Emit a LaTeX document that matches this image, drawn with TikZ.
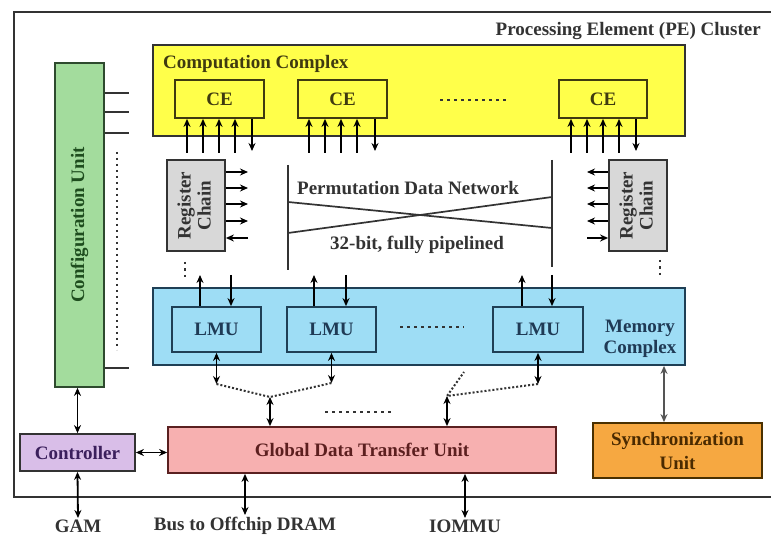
\documentclass[tikz,border=0pt]{standalone}
\usepackage{fontspec}
\setmainfont{Liberation Serif}
\usetikzlibrary{arrows.meta}
\definecolor{outc}{HTML}{333333}
\definecolor{ccyel}{HTML}{FFFF4A}
\definecolor{cctxt}{HTML}{3F3A10}
\definecolor{cfgfill}{HTML}{A3DC9D}
\definecolor{cfgtxt}{HTML}{1E4D1E}
\definecolor{cfgdraw}{HTML}{2E4A2E}
\definecolor{rcfill}{HTML}{D8D8D8}
\definecolor{mcfill}{HTML}{9EDDF5}
\definecolor{mcdraw}{HTML}{1F3F55}
\definecolor{mctxt}{HTML}{1F3A55}
\definecolor{ctfill}{HTML}{D9BEE8}
\definecolor{cttxt}{HTML}{3B1F5C}
\definecolor{gdfill}{HTML}{F7B0B0}
\definecolor{gddraw}{HTML}{5A2020}
\definecolor{gdtxt}{HTML}{5C1F1F}
\definecolor{syfill}{HTML}{F6A841}
\definecolor{sydraw}{HTML}{4A3000}
\definecolor{sytxt}{HTML}{4A2A00}
\definecolor{graya}{HTML}{555555}
\begin{document}
\begin{tikzpicture}[x=1pt,y=-1pt,
  font=\fontsize{19}{23}\selectfont\bfseries,
  blk/.style={rectangle, draw=outc, line width=1.8pt, inner sep=0pt, align=center},
  arr/.style={line width=1.8pt, -{Stealth[length=8pt,width=7pt]}},
  darr/.style={line width=1.8pt, {Stealth[length=8pt,width=7pt]}-{Stealth[length=8pt,width=7pt]}},
  dotsH/.style={line width=2.5pt, dash pattern=on 2.5pt off 4.5pt, draw=outc},
  dotsV/.style={line width=2pt, dash pattern=on 2pt off 4pt, draw=outc},
  dotline/.style={line width=2pt, dash pattern=on 2pt off 2pt, draw=outc},
  netline/.style={line width=1.7pt, draw=outc},
  lbl/.style={inner sep=2pt, text=outc}]
\useasboundingbox (0,0) rectangle (771,537);
\fill[white] (0,0) rectangle (771,537);

% outer cluster
\node[blk, minimum width=776pt, minimum height=485pt] (pe) at (402,254.5) {};
\node[lbl, anchor=base east] (pet) at (763,36) {Processing Element (PE) Cluster};

% computation complex
\node[blk, fill=ccyel, minimum width=532pt, minimum height=91pt] (cc) at (419,90.5) {};
\node[lbl, anchor=base west, text=cctxt, inner sep=0pt] (cct) at (163,69) {Computation Complex};
\node[blk, fill=ccyel, draw=cctxt, text=cctxt, minimum width=89pt, minimum height=38pt] (ce1) at (219.5,99) {CE};
\node[blk, fill=ccyel, draw=cctxt, text=cctxt, minimum width=89pt, minimum height=38pt] (ce2) at (342.5,99) {CE};
\node[blk, fill=ccyel, draw=cctxt, text=cctxt, minimum width=88pt, minimum height=38pt] (ce3) at (603,99) {CE};
\coordinate (cedl) at (440,100);
\coordinate (cedr) at (506,100);
\draw[dotsH] (cedl) -- (cedr);

% CE arrows
\foreach \x in {187,203,219,235} \draw[arr] (\x,153) -- (\x,0 |- ce1.south);
\draw[arr] (252,0 |- ce1.south) -- (252,151);
\foreach \x in {309,325,341,357} \draw[arr] (\x,153) -- (\x,0 |- ce2.south);
\draw[arr] (375,0 |- ce2.south) -- (375,151);
\foreach \x in {571,587,603,619} \draw[arr] (\x,153) -- (\x,0 |- ce3.south);
\draw[arr] (636,0 |- ce3.south) -- (636,151);

% configuration unit
\node[blk, fill=cfgfill, draw=cfgdraw, text=cfgtxt, minimum width=49pt, minimum height=324pt] (cfg) at (79.5,225) {\rotatebox{90}{Configuration Unit}};
\foreach \y in {93,112,133,368} \draw[line width=1.7pt, outc] (cfg.east |- 0,\y) -- (129,\y);
\coordinate (cfgd1) at (117,152);
\coordinate (cfgd2) at (117,350);
\draw[dotsV] (cfgd1) -- (cfgd2);

% register chains
\node[blk, fill=rcfill, text=outc, minimum width=58pt, minimum height=91pt] (rc1) at (196,205.5)
  {\rotatebox{90}{\begin{tabular}{@{}c@{}}Register\\[-3pt]Chain\end{tabular}}};
\node[blk, fill=rcfill, text=outc, minimum width=58pt, minimum height=91pt] (rc2) at (638,205.5)
  {\rotatebox{90}{\begin{tabular}{@{}c@{}}Register\\[-3pt]Chain\end{tabular}}};
\foreach \y in {172,188,204,221} \draw[arr] (rc1.east |- 0,\y) -- (248,\y);
\draw[arr] (248,238) -- (rc1.east |- 0,238);
\foreach \y in {172,188,204,221} \draw[arr] (rc2.west |- 0,\y) -- (587,\y);
\draw[arr] (587,238) -- (rc2.west |- 0,238);
\draw[dotsV, line width=2.5pt, dash pattern=on 2.5pt off 4pt] (185,262) -- (185,280);
\draw[dotsV, line width=2.5pt, dash pattern=on 2.5pt off 4pt] (660,260) -- (660,278);

% permutation network
\coordinate (nlt) at (288,165);
\coordinate (nlb) at (288,270);
\coordinate (nrt) at (552,160);
\coordinate (nrb) at (552,267);
\draw[netline] (nlt) -- (nlb);
\draw[netline] (nrt) -- (nrb);
\draw[netline] (288,202) -- (552,228);
\draw[netline] (288,233) -- (552,197);
\node[lbl, anchor=base west, inner sep=0pt] (pdn) at (297,195) {Permutation Data Network};
\node[lbl, anchor=base west, inner sep=0pt] (pip) at (330,250) {32-bit, fully pipelined};

% memory complex
\node[blk, fill=mcfill, draw=mcdraw, minimum width=532pt, minimum height=77pt] (mc) at (419,326.5) {};
\node[blk, fill=mcfill, draw=mcdraw, text=mctxt, minimum width=89pt, minimum height=45pt] (lmu1) at (216.5,329.5) {LMU};
\node[blk, fill=mcfill, draw=mcdraw, text=mctxt, minimum width=89pt, minimum height=45pt] (lmu2) at (331.5,329.5) {LMU};
\node[blk, fill=mcfill, draw=mcdraw, text=mctxt, minimum width=90pt, minimum height=45pt] (lmu3) at (538,329.5) {LMU};
\node[lbl, text=mctxt, align=center, font=\fontsize{19}{21}\selectfont\bfseries] (mct) at (640,339) {Memory\\Complex};
\draw[dotsH] (400,327) -- (464,327);

% LMU top arrows
\draw[arr] (200,0 |- lmu1.north) -- (200,275);
\draw[arr] (231,275) -- (231,0 |- lmu1.north);
\draw[arr] (314,0 |- lmu2.north) -- (314,275);
\draw[arr] (346,275) -- (346,0 |- lmu2.north);
\draw[arr] (522,0 |- lmu3.north) -- (522,275);
\draw[arr] (552,275) -- (552,0 |- lmu3.north);

% global data transfer unit
\node[blk, fill=gdfill, draw=gddraw, text=gdtxt, minimum width=388pt, minimum height=46pt] (gd) at (362,450) {Global Data Transfer Unit};

% LMU to GDTU
\coordinate (j1) at (216.5,384);
\coordinate (j2) at (331.5,383);
\coordinate (j3) at (538,384);
\coordinate (ja) at (270,397);
\coordinate (jb) at (447,396);
\coordinate (jc) at (464,372);
\draw[darr] (lmu1.south) -- (j1);
\draw[darr] (lmu2.south) -- (j2);
\draw[darr] (lmu3.south) -- (j3);
\draw[dotline] (j1) -- (ja) -- (j2);
\draw[dotline] (j3) -- (jb) -- (jc);
\draw[darr] (ja) -- (ja |- gd.north);
\draw[darr] (jb) -- (jb |- gd.north);
\draw[dotsH] (325,412) -- (392,412);

% controller
\node[blk, fill=ctfill, text=cttxt, minimum width=115pt, minimum height=37pt] (ct) at (77.5,452.5) {Controller};
\draw[darr] (ct.north |- cfg.south) -- (ct.north);
\draw[darr] (ct.east) -- (ct.east -| gd.west);

% synchronization unit
\node[blk, fill=syfill, draw=sydraw, text=sytxt, minimum width=169pt, minimum height=55pt, font=\fontsize{19}{24}\selectfont\bfseries] (sy) at (677.5,450.5) {Synchronization\\Unit};
\draw[darr, graya] (664,0 |- mc.south) -- (664,0 |- sy.north);

% external labels
\node[lbl, anchor=north] (gam) at (78,518) {GAM};
\node[lbl, anchor=north] (bus) at (245,515) {Bus to Offchip DRAM};
\node[lbl, anchor=north] (iom) at (465,518) {IOMMU};
\draw[darr] (ct.south) -- (gam.north);
\draw[darr] (gd.south -| bus.north) -- (bus.north);
\draw[darr] (gd.south -| iom.north) -- (iom.north);
\end{tikzpicture}
\end{document}
